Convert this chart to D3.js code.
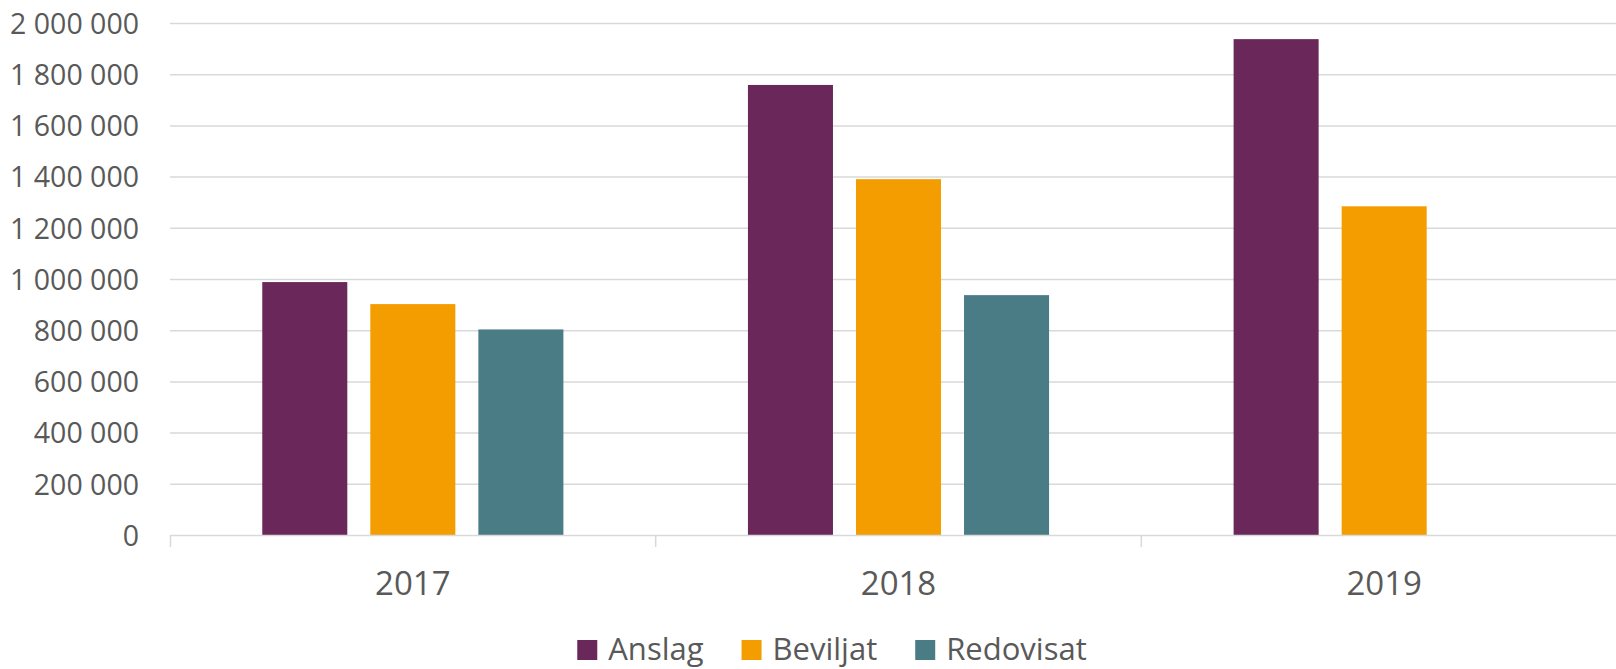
<!DOCTYPE html>
<html>
<head>
<meta charset="utf-8">
<script src="https://cdn.jsdelivr.net/npm/d3@7"></script>
<style>
  html, body { margin: 0; padding: 0; background: #fff; overflow: hidden; }
  svg { display: block; font-family: "Open Sans", sans-serif; }
</style>
</head>
<body>
<svg id="chart" width="1616" height="669"></svg>
<script>
// data
var years = ["2017", "2018", "2019"];
var seriesNames = ["Anslag", "Beviljat", "Redovisat"];
var anslag = [988000, 1758000, 1937000];
var beviljat = [902000, 1390000, 1284000];
var redovisat = [803000, 937000, null];
var yTicks = [0, 200000, 400000, 600000, 800000, 1000000, 1200000, 1400000, 1600000, 1800000, 2000000];
var colors = ["#69275a", "#f49d00", "#4a7c86"];

var W = 1616, H = 669;
var LEFT = 170, RIGHT = 1627, TOP = 23, BOTTOM = 535;
var TEXT = "#595959", GRID = "#d9d9d9";

var svg = d3.select("#chart");

var x = d3.scaleBand().domain(years).range([LEFT, RIGHT]).paddingInner(0).paddingOuter(0);
var xs = d3.scaleBand().domain(seriesNames).range([0, x.bandwidth()])
    .paddingInner(0.213).paddingOuter(0.854);
var y = d3.scaleLinear().domain([0, 2000000]).range([BOTTOM, TOP]);
var color = d3.scaleOrdinal().domain(seriesNames).range(colors);

var fmt = d3.formatLocale({decimal: ",", thousands: " ", grouping: [3], currency: ["", ""]}).format(",d");

// y axis with gridlines
var yAxis = svg.append("g")
    .attr("transform", "translate(" + LEFT + ",0)")
    .call(d3.axisLeft(y).tickValues(yTicks).tickFormat(fmt)
        .tickSizeInner(-(RIGHT - LEFT)).tickSizeOuter(0).tickPadding(31));
yAxis.select(".domain").remove();
yAxis.selectAll(".tick line")
    .style("stroke", GRID)
    .style("stroke-width", 1.5)
    .style("display", function(d) { return d === 0 ? "none" : null; });
yAxis.selectAll(".tick text")
    .attr("dy", "0.36em")
    .style("fill", TEXT)
    .style("font-size", "28.5px")
    .style("font-family", "'Open Sans', sans-serif");

// bars
var rows = years.map(function(yr, i) {
    return {year: yr, values: [
        {name: "Anslag", value: anslag[i]},
        {name: "Beviljat", value: beviljat[i]},
        {name: "Redovisat", value: redovisat[i]}
    ]};
});

var groups = svg.append("g").selectAll("g")
    .data(rows)
    .join("g")
    .attr("transform", function(d) { return "translate(" + x(d.year) + ",0)"; });

groups.selectAll("rect")
    .data(function(d) { return d.values.filter(function(v) { return v.value != null; }); })
    .join("rect")
    .attr("x", function(d) { return xs(d.name); })
    .attr("width", xs.bandwidth())
    .attr("y", function(d) { return y(d.value); })
    .attr("height", function(d) { return y(0) - y(d.value); })
    .style("fill", function(d) { return color(d.name); });

// x axis
var xAxis = svg.append("g")
    .attr("transform", "translate(0," + BOTTOM + ")")
    .call(d3.axisBottom(x).tickSizeInner(0).tickSizeOuter(12).tickPadding(0));
xAxis.select(".domain").style("stroke", GRID).style("stroke-width", 1.5);
xAxis.selectAll(".tick text")
    .attr("y", 0)
    .attr("dy", 60)
    .style("fill", TEXT)
    .style("font-size", "33px")
    .style("font-family", "'Open Sans', sans-serif");

// category boundary ticks
svg.append("g").selectAll("line")
    .data(years.slice(1))
    .join("line")
    .attr("x1", function(d) { return x(d); })
    .attr("x2", function(d) { return x(d); })
    .attr("y1", BOTTOM)
    .attr("y2", BOTTOM + 12)
    .style("stroke", GRID)
    .style("stroke-width", 1.5);

// legend (nudged up a little so descenders stay inside the frame)
var legend = svg.append("g");
var items = legend.selectAll("g")
    .data(seriesNames)
    .join("g");
items.append("rect")
    .attr("width", 20).attr("height", 20)
    .attr("y", 640)
    .style("fill", function(d) { return color(d); });
items.append("text")
    .attr("x", 31)
    .attr("y", 660)
    .text(function(d) { return d; })
    .style("fill", TEXT)
    .style("font-size", "31px")
    .style("font-family", "'Open Sans', sans-serif");

var offset = 0, widths = [];
items.each(function(d) {
    var w = 31 + d3.select(this).select("text").node().getComputedTextLength();
    widths.push(w);
});
var gap = 38;
var total = d3.sum(widths) + gap * (widths.length - 1);
var start = 832 - total / 2;
items.attr("transform", function(d, i) {
    var tx = start + offset;
    offset += widths[i] + gap;
    return "translate(" + tx + ",0)";
});
</script>
</body>
</html>
